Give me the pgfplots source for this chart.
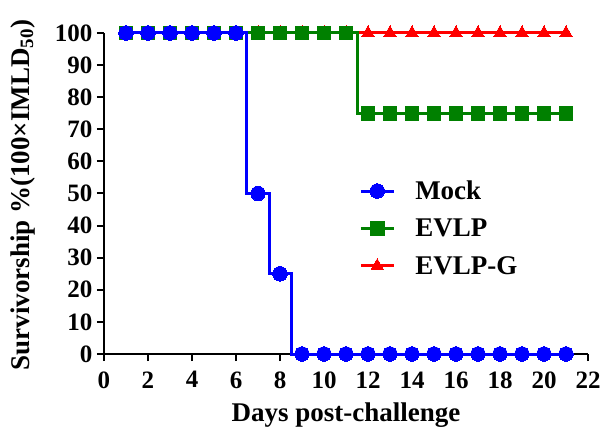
\documentclass[border=0pt]{standalone}
\usepackage{fontspec}
\setmainfont{Liberation Serif}
\usepackage{pgfplots}
\pgfplotsset{compat=1.18}
\definecolor{cblue}{RGB}{0,0,255}
\definecolor{cgreen}{RGB}{0,128,0}
\definecolor{cred}{RGB}{255,0,0}
\begin{document}
\begin{tikzpicture}
\useasboundingbox (-104bp,-74bp) rectangle (500bp,354bp);
\begin{axis}[
  at={(0,0)}, anchor=south west,
  scale only axis, width=484bp, height=321bp,
  xmin=0, xmax=22, ymin=0, ymax=100,
  xtick={0,2,...,22}, ytick={0,10,...,100},
  axis x line*=bottom, axis y line*=left,
  axis line style={line width=2bp, black},
  tick style={line width=2bp, black},
  tick align=outside, major tick length=7bp,
  every axis plot post/.append style={line width=3bp},
  /pgf/number format/assume math mode=true,
  ticklabel style={font=\fontsize{25bp}{29bp}\selectfont\bfseries},
  xticklabel style={yshift=-7bp},
  yticklabel style={xshift=-1bp},
  xlabel={Days post-challenge},
  ylabel={Survivorship \%(100×IMLD\textsubscript{50})},
  label style={font=\fontsize{27bp}{31bp}\selectfont\bfseries},
  xlabel style={at={(axis description cs:0.5,-0.19)}, anchor=center},
  ylabel style={at={(axis description cs:-0.168,0.495)}, anchor=center},
  clip=false,
  reverse legend,
  legend cell align=left,
  legend style={draw=none, fill=none, at={(0.527,0.546)}, anchor=north west,
    font=\fontsize{27bp}{31bp}\selectfont\bfseries, row sep=14bp, inner sep=0pt,
    /tikz/every odd column/.append style={column sep=18bp}},
  legend image code/.code={\draw[mark repeat=2,mark phase=2] plot coordinates {(0bp,0bp) (16.5bp,0bp) (33bp,0bp)};},
]
\addplot+[cred, const plot mark mid, mark=triangle*, mark size=7.2bp,
  mark options={fill=cred, draw=cred, line width=0pt}] coordinates {
(1,100)(2,100)(3,100)(4,100)(5,100)(6,100)(7,100)(8,100)(9,100)(10,100)(11,100)
(12,100)(13,100)(14,100)(15,100)(16,100)(17,100)(18,100)(19,100)(20,100)(21,100)};
\addlegendentry{EVLP-G}
\addplot+[cgreen, const plot mark mid, mark=square*, mark size=6.8bp,
  mark options={fill=cgreen, draw=cgreen, line width=0pt}] coordinates {
(1,100)(2,100)(3,100)(4,100)(5,100)(6,100)(7,100)(8,100)(9,100)(10,100)(11,100)
(12,75)(13,75)(14,75)(15,75)(16,75)(17,75)(18,75)(19,75)(20,75)(21,75)};
\addlegendentry{EVLP}
\addplot+[cblue, const plot mark mid, mark=*, mark size=7.3bp,
  mark options={fill=cblue, draw=cblue, line width=0pt}] coordinates {
(1,100)(2,100)(3,100)(4,100)(5,100)(6,100)(7,50)(8,25)
(9,0)(10,0)(11,0)(12,0)(13,0)(14,0)(15,0)(16,0)(17,0)(18,0)(19,0)(20,0)(21,0)};
\addlegendentry{Mock}
\end{axis}
\end{tikzpicture}
\end{document}
